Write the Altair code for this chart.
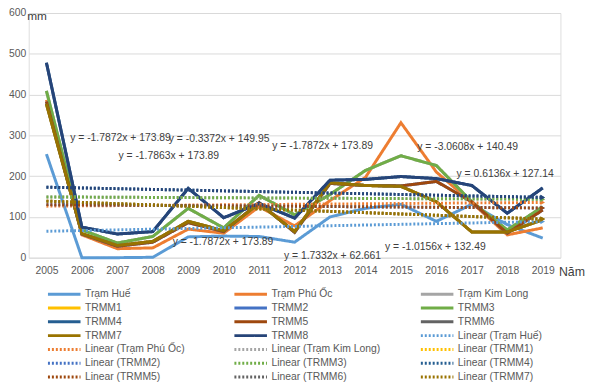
import altair as alt
import pandas as pd

years = list(range(2005, 2020))

hue      = [254, 0, 0, 1, 51, 53, 52, 38, 100, 121, 131, 89, 131, 81, 48]
phu_oc   = [387, 56, 22, 24, 70, 60, 125, 78, 140, 197, 331, 210, 135, 56, 73]
kim_long = [409, 68, 36, 52, 121, 73, 153, 105, 155, 214, 250, 226, 137, 68, 125]
trmm1    = [377, 59, 30, 40, 89, 66, 133, 64, 184, 177, 175, 137, 63, 63, 93]
trmm2    = [383, 58, 28, 38, 86, 64, 135, 62, 182, 177, 176, 187, 137, 60, 117]
trmm3    = [409, 68, 36, 52, 121, 73, 153, 105, 155, 214, 250, 226, 137, 68, 125]
trmm4    = [478, 75, 58, 64, 170, 98, 133, 97, 190, 192, 199, 194, 177, 109, 171]
trmm5    = [383, 58, 28, 38, 86, 64, 135, 62, 182, 177, 176, 187, 137, 60, 117]
trmm6    = [377, 59, 30, 40, 89, 66, 133, 64, 184, 177, 175, 137, 63, 63, 93]
trmm7    = [377, 59, 30, 40, 89, 66, 133, 64, 184, 177, 175, 137, 63, 63, 93]
trmm8    = [478, 75, 58, 64, 170, 98, 133, 97, 190, 192, 199, 194, 177, 109, 171]

series_names = ["Trạm Huế", "Trạm Phú Ốc", "Trạm Kim Long", "TRMM1", "TRMM2", "TRMM3",
                "TRMM4", "TRMM5", "TRMM6", "TRMM7", "TRMM8"]
series_values = [hue, phu_oc, kim_long, trmm1, trmm2, trmm3, trmm4, trmm5, trmm6, trmm7, trmm8]
series_colors = ["#5B9BD5", "#ED7D31", "#A5A5A5", "#FFC000", "#4472C4", "#70AD47",
                 "#255E91", "#9E480E", "#636363", "#997300", "#264478"]

eq_text = ["y = -1.7872x + 173.89", "y = -0.3372x + 149.95", "y = -1.7863x + 173.89",
           "y = -1.7872x + 173.89", "y = -1.7872x + 173.89", "y = -3.0608x + 140.49",
           "y = 0.6136x + 127.14", "y = -1.0156x + 132.49", "y = 1.7332x + 62.661"]
eq_year = [2007.09, 2009.87, 2008.45, 2009.98, 2012.79, 2016.88, 2017.94, 2015.97, 2013.07]
eq_value = [293, 291, 250, 39, 274, 272, 204, 27, 3]

trend_names = [f"Linear ({n})" for n in series_names]
all_names = series_names + trend_names
all_colors = series_colors + series_colors
all_dash = [[1, 0]] * len(series_names) + [[2, 2]] * len(series_names)
all_width = [3] * len(series_names) + [2] * len(series_names)

# legend shows 21 entries, read row by row in 3 columns; Vega fills column by column
shown = all_names[:21]
legend_order = [shown[r * 3 + c] for c in range(3) for r in range(7)]

rows = []
for name, vals in zip(series_names, series_values):
    for y, v in zip(years, vals):
        rows.append({"series": name, "year": y, "value": v})
df = pd.DataFrame(rows)
eq_df = pd.DataFrame({"text": eq_text, "year": eq_year, "value": eq_value})

FONT = "Liberation Sans, Arial, sans-serif"

x_enc = alt.X("year:Q", scale=alt.Scale(domain=[2004.5, 2019.5], nice=False, zero=False),
              axis=alt.Axis(values=years, format="d", grid=False, domain=False, ticks=False,
                            labelOverlap=False, labelFlush=False,
                            labelPadding=8, labelFontSize=10.5, labelColor="#595959",
                            labelFont=FONT, title="Năm", titleFont=FONT, titleFontSize=12.5,
                            titleFontWeight="normal", titleColor="#404040",
                            titleAlign="left", titleX=537, titleY=14, titleBaseline="middle"))
y_enc = alt.Y("value:Q", scale=alt.Scale(domain=[0, 600], nice=False),
              axis=alt.Axis(values=[0, 100, 200, 300, 400, 500, 600], grid=True,
                            gridColor="#d9d9d9", gridWidth=1, domain=False, ticks=False,
                            labelOverlap=False, labelFlush=False,
                            labelPadding=3, labelFontSize=10.5, labelColor="#595959",
                            labelFont=FONT, title="mm", titleFont=FONT, titleFontSize=12,
                            titleFontWeight="normal", titleColor="#404040", titleAngle=0,
                            titleAlign="left", titleX=-2, titleY=3, titleBaseline="middle"))

legend = alt.Legend(title=None, orient="none", legendX=29, legendY=278, columns=3,
                    values=legend_order, symbolType="M-3,0H3", symbolSize=121,
                    labelFont=FONT, labelFontSize=10.5, labelColor="#595959",
                    labelOffset=14, columnPadding=34, rowPadding=1, gridAlign="all",
                    labelLimit=200, padding=0)

color_enc = alt.Color("series:N", scale=alt.Scale(domain=all_names, range=all_colors), legend=legend)
dash_enc = alt.StrokeDash("series:N", scale=alt.Scale(domain=all_names, range=all_dash), legend=legend)
width_enc = alt.StrokeWidth("series:N", scale=alt.Scale(domain=all_names, range=all_width), legend=legend)

base = alt.Chart(df)
layers = []
for name in series_names:
    layers.append(
        base.transform_filter(alt.datum.series == name)
        .mark_line(strokeCap="butt", strokeJoin="miter")
        .encode(x=x_enc, y=y_enc, color=color_enc, strokeDash=dash_enc, strokeWidth=width_enc)
    )
for name, col in zip(series_names, series_colors):
    tr = (base.transform_filter(alt.datum.series == name)
          .transform_regression("year", "value", method="linear", extent=[2005, 2019])
          .transform_calculate(series=f"'Linear ({name})'"))
    layers.append(tr.mark_line().encode(x=x_enc, y=y_enc, color=color_enc,
                                        strokeDash=dash_enc, strokeWidth=width_enc))
    layers.append(tr.transform_filter(alt.datum.year >= 2019)
                  .mark_point(shape="triangle-right", filled=True, size=28, opacity=1)
                  .encode(x=x_enc, y=y_enc, color=alt.value(col)))

labels = alt.Chart(eq_df).mark_text(font=FONT, fontSize=10.5, color="#404040",
                                    align="center", baseline="middle").encode(
    x=x_enc, y=y_enc, text="text:N")
layers.append(labels)

chart = alt.layer(*layers).properties(
    width=539, height=248,
    padding={"left": 21, "top": 2.5, "right": 33, "bottom": 129},
    autosize=alt.AutoSizeParams(type="none"),
).configure_view(stroke=None).configure_axisX(labelOverlap=False).configure(background="white")

chart.save("out.html", embed_options={"renderer": "svg", "actions": False})
